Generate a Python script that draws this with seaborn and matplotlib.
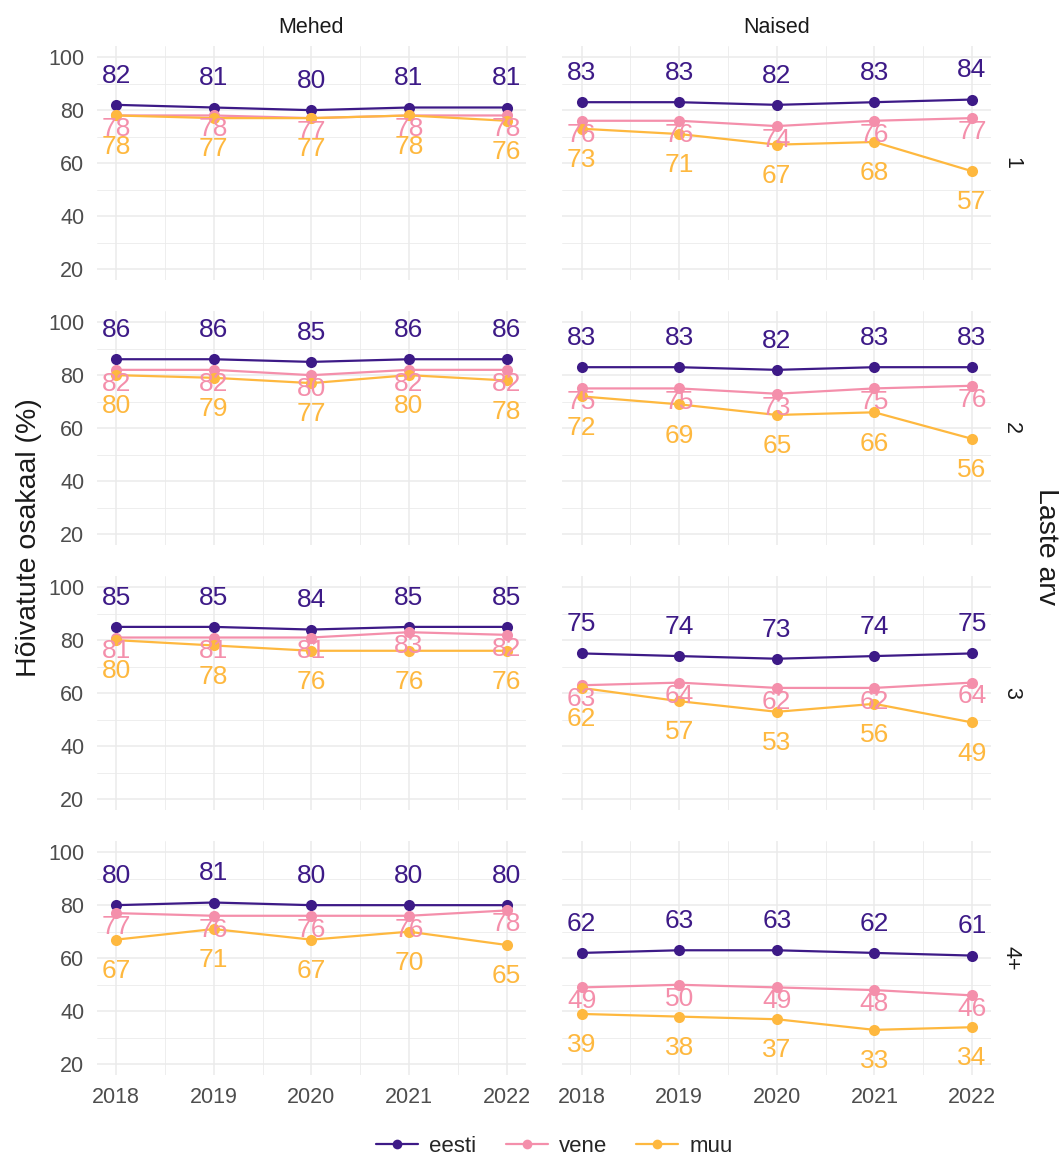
import numpy as np
import pandas as pd
import matplotlib
matplotlib.use("Agg")
import matplotlib.pyplot as plt
from matplotlib.lines import Line2D
from matplotlib.ticker import MultipleLocator
import seaborn as sns

years = [2018, 2019, 2020, 2021, 2022]
genders = ["Mehed", "Naised"]
kids = ["1", "2", "3", "4+"]
groups = ["eesti", "vene", "muu"]

# Mehed
m1_eesti = [82, 81, 80, 81, 81]
m1_vene = [78, 78, 77, 78, 78]
m1_muu = [78, 77, 77, 78, 76]
m2_eesti = [86, 86, 85, 86, 86]
m2_vene = [82, 82, 80, 82, 82]
m2_muu = [80, 79, 77, 80, 78]
m3_eesti = [85, 85, 84, 85, 85]
m3_vene = [81, 81, 81, 83, 82]
m3_muu = [80, 78, 76, 76, 76]
m4_eesti = [80, 81, 80, 80, 80]
m4_vene = [77, 76, 76, 76, 78]
m4_muu = [67, 71, 67, 70, 65]
# Naised
n1_eesti = [83, 83, 82, 83, 84]
n1_vene = [76, 76, 74, 76, 77]
n1_muu = [73, 71, 67, 68, 57]
n2_eesti = [83, 83, 82, 83, 83]
n2_vene = [75, 75, 73, 75, 76]
n2_muu = [72, 69, 65, 66, 56]
n3_eesti = [75, 74, 73, 74, 75]
n3_vene = [63, 64, 62, 62, 64]
n3_muu = [62, 57, 53, 56, 49]
n4_eesti = [62, 63, 63, 62, 61]
n4_vene = [49, 50, 49, 48, 46]
n4_muu = [39, 38, 37, 33, 34]

series = {
    ("Mehed", "1"): (m1_eesti, m1_vene, m1_muu),
    ("Mehed", "2"): (m2_eesti, m2_vene, m2_muu),
    ("Mehed", "3"): (m3_eesti, m3_vene, m3_muu),
    ("Mehed", "4+"): (m4_eesti, m4_vene, m4_muu),
    ("Naised", "1"): (n1_eesti, n1_vene, n1_muu),
    ("Naised", "2"): (n2_eesti, n2_vene, n2_muu),
    ("Naised", "3"): (n3_eesti, n3_vene, n3_muu),
    ("Naised", "4+"): (n4_eesti, n4_vene, n4_muu),
}

rows = []
for (g, k), vals in series.items():
    for grp, v in zip(groups, vals):
        for y, val in zip(years, v):
            rows.append(dict(sugu=g, lapsi=k, rühm=grp, aasta=y, osakaal=val))
df = pd.DataFrame(rows)

colors = {"eesti": "#3d1a87", "vene": "#f48fab", "muu": "#feb83f"}
label_offset = {"eesti": 21, "vene": -10, "muu": -22.5}

sns.set_theme(style="whitegrid")
plt.rcParams["font.family"] = ["Liberation Sans", "DejaVu Sans"]

fig, axes = plt.subplots(4, 2, figsize=(10.62, 11.62), dpi=100, sharex=True, sharey=True)
fig.subplots_adjust(left=0.091, right=0.9336, top=0.960, bottom=0.0749, wspace=0.084, hspace=0.135)

for ci, g in enumerate(genders):
    for ri, k in enumerate(kids):
        ax = axes[ri, ci]
        sub = df[(df.sugu == g) & (df.lapsi == k)]
        sns.lineplot(data=sub, x="aasta", y="osakaal", hue="rühm", hue_order=groups,
                     palette=colors, marker="o", markersize=8, markeredgewidth=0,
                     linewidth=1.6, ax=ax, legend=False, estimator=None)
        for _, r in sub.iterrows():
            ax.annotate(f"{r['osakaal']:.0f}", (r["aasta"], r["osakaal"]),
                        xytext=(0, label_offset[r["rühm"]]), textcoords="offset points",
                        ha="center", va="center", fontsize=19,
                        color=colors[r["rühm"]])
        ax.set_xlim(2017.8, 2022.2)
        ax.set_ylim(16, 104)
        ax.set_xticks(years)
        ax.set_yticks([20, 40, 60, 80, 100])
        ax.xaxis.set_minor_locator(MultipleLocator(0.5))
        ax.yaxis.set_minor_locator(MultipleLocator(10))
        ax.grid(which="major", color="#ebebeb", linewidth=1.1)
        ax.grid(which="minor", color="#ebebeb", linewidth=0.6)
        ax.set_xlabel("")
        ax.set_ylabel("")
        for s in ax.spines.values():
            s.set_visible(False)
        ax.tick_params(axis="both", which="both", length=0, labelsize=15.5,
                       labelcolor="#4d4d4d")
        ax.tick_params(axis="y", pad=9)
        ax.tick_params(axis="x", pad=8.5)
        if ri == 0:
            ax.set_title(g, fontsize=15.5, color="#1a1a1a", pad=10)
        if ci == 1:
            ax.text(1.022, 0.5, k, transform=ax.transAxes, rotation=-90,
                    ha="left", va="center", fontsize=15.5, color="#1a1a1a")

fig.text(0.027, 0.537, "Hõivatute osakaal (%)", rotation=90, ha="center", va="center",
         fontsize=20.5, color="#1a1a1a")
fig.text(0.985, 0.53, "Laste arv", rotation=-90, ha="center", va="center",
         fontsize=20.5, color="#1a1a1a")

handles = [Line2D([0], [0], color=colors[g], marker="o", markersize=7, linewidth=1.6,
                  markeredgewidth=0) for g in groups]
fig.legend(handles, groups, loc="lower center", bbox_to_anchor=(0.522, -0.013), ncol=3,
           frameon=False, fontsize=16, handlelength=1.9, columnspacing=1.3,
           handletextpad=0.5)

fig.savefig("out.png", dpi=100)
